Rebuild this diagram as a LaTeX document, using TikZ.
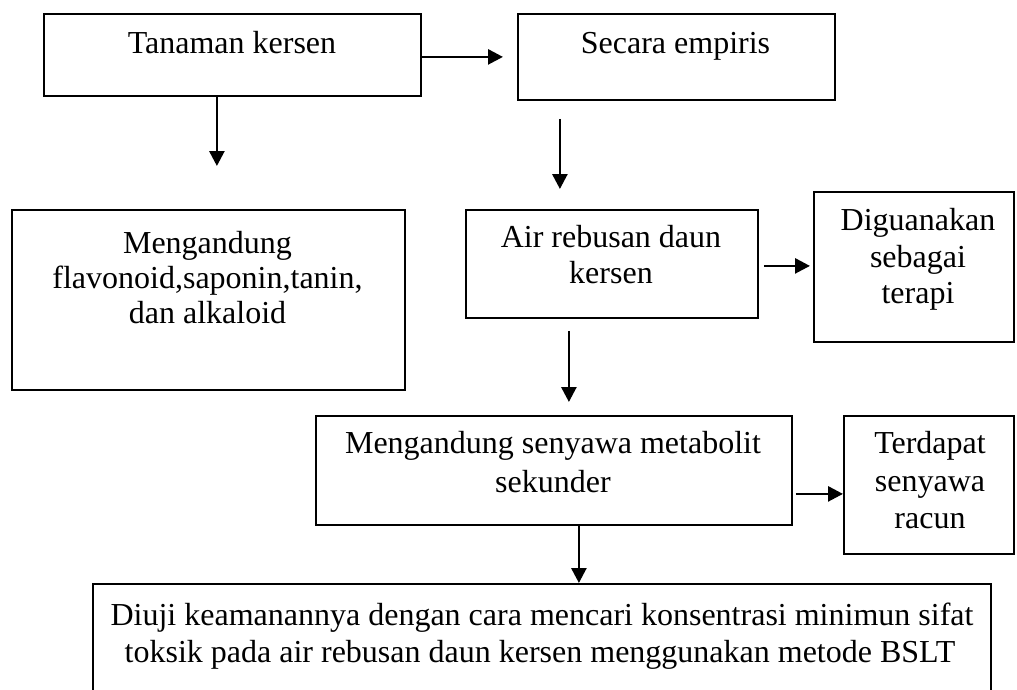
\documentclass[tikz,border=0pt]{standalone}
\usepackage{fontspec}
\setmainfont{Liberation Serif}
\usetikzlibrary{arrows.meta,calc}
\tikzset{
  box/.style={draw=black, line width=1.8pt, rectangle, inner sep=0pt, anchor=north west},
  txt/.style={anchor=base, inner sep=0pt, font=\fontsize{32}{36}\selectfont},
  arr/.style={line width=2.7pt, -{Triangle[length=15pt,width=15pt]}}
}
\begin{document}
\begin{tikzpicture}[x=1pt,y=-1pt]
\useasboundingbox (0,0) rectangle (1017,689);
\clip (0,0) rectangle (1017,689);
% boxes
\node[box, minimum width=377, minimum height=82] (b1) at (43,13) {};
\node[box, minimum width=317, minimum height=86] (b2) at (517,13) {};
\node[box, minimum width=393, minimum height=180] (b3) at (11,209) {};
\node[box, minimum width=292, minimum height=108] (b4) at (465,209) {};
\node[box, minimum width=200, minimum height=150] (b5) at (813,191) {};
\node[box, minimum width=476, minimum height=109] (b6) at (315,415) {};
\node[box, minimum width=170, minimum height=138] (b7) at (843,415) {};
\node[box, minimum width=898, minimum height=140] (b8) at (92,583) {};
% texts
\node[txt] (t1) at (232,53) {Tanaman kersen};
\node[txt] (t2) at (675.5,53) {Secara empiris};
\node[txt] (t3a) at (207.5,253) {Mengandung};
\node[txt] (t3b) at (207.5,288) {flavonoid,saponin,tanin,};
\node[txt] (t3c) at (207.5,323) {dan alkaloid};
\node[txt] (t4a) at (611,247) {Air rebusan daun};
\node[txt] (t4b) at (611,283) {kersen};
\node[txt] (t5a) at (918,230) {Diguanakan};
\node[txt] (t5b) at (918,267) {sebagai};
\node[txt] (t5c) at (918,303) {terapi};
\node[txt] (t6a) at (553,453) {Mengandung senyawa metabolit};
\node[txt] (t6b) at (553,492) {sekunder};
\node[txt] (t7a) at (930,453) {Terdapat};
\node[txt] (t7b) at (930,491) {senyawa};
\node[txt] (t7c) at (930,528) {racun};
\node[txt] (t8a) at (542,625) {Diuji keamanannya dengan cara mencari konsentrasi minimun sifat};
\node[txt] (t8b) at (540,662) {toksik pada air rebusan daun kersen menggunakan metode BSLT};
% connectors
\draw[arr, shorten >=14pt] ([yshift=-2pt]b1.east) -- ([yshift=-2pt]b1.east -| b2.west);
\draw[arr, shorten >=43pt] ([xshift=-15.5pt]b1.south) -- ([xshift=-15.5pt]b1.south |- b3.north);
\draw[arr, shorten <=18pt, shorten >=20pt] ([xshift=-116.5pt]b2.south) -- ([xshift=-116.5pt]b2.south |- b4.north);
\draw[arr, shorten <=5pt, shorten >=3pt] ([yshift=-2pt]b4.east) -- ([yshift=-2pt]b4.east -| b5.west);
\draw[arr, shorten <=12pt, shorten >=13pt] ([xshift=-43pt]b4.south) -- ([xshift=-43pt]b4.south |- b6.north);
\draw[arr, shorten <=3pt] ([yshift=-23.5pt]b6.east) -- ([yshift=-23.5pt]b6.east -| b7.west);
\draw[arr] ([xshift=25pt]b6.south) -- ([xshift=25pt]b6.south |- b8.north);
\end{tikzpicture}
\end{document}
